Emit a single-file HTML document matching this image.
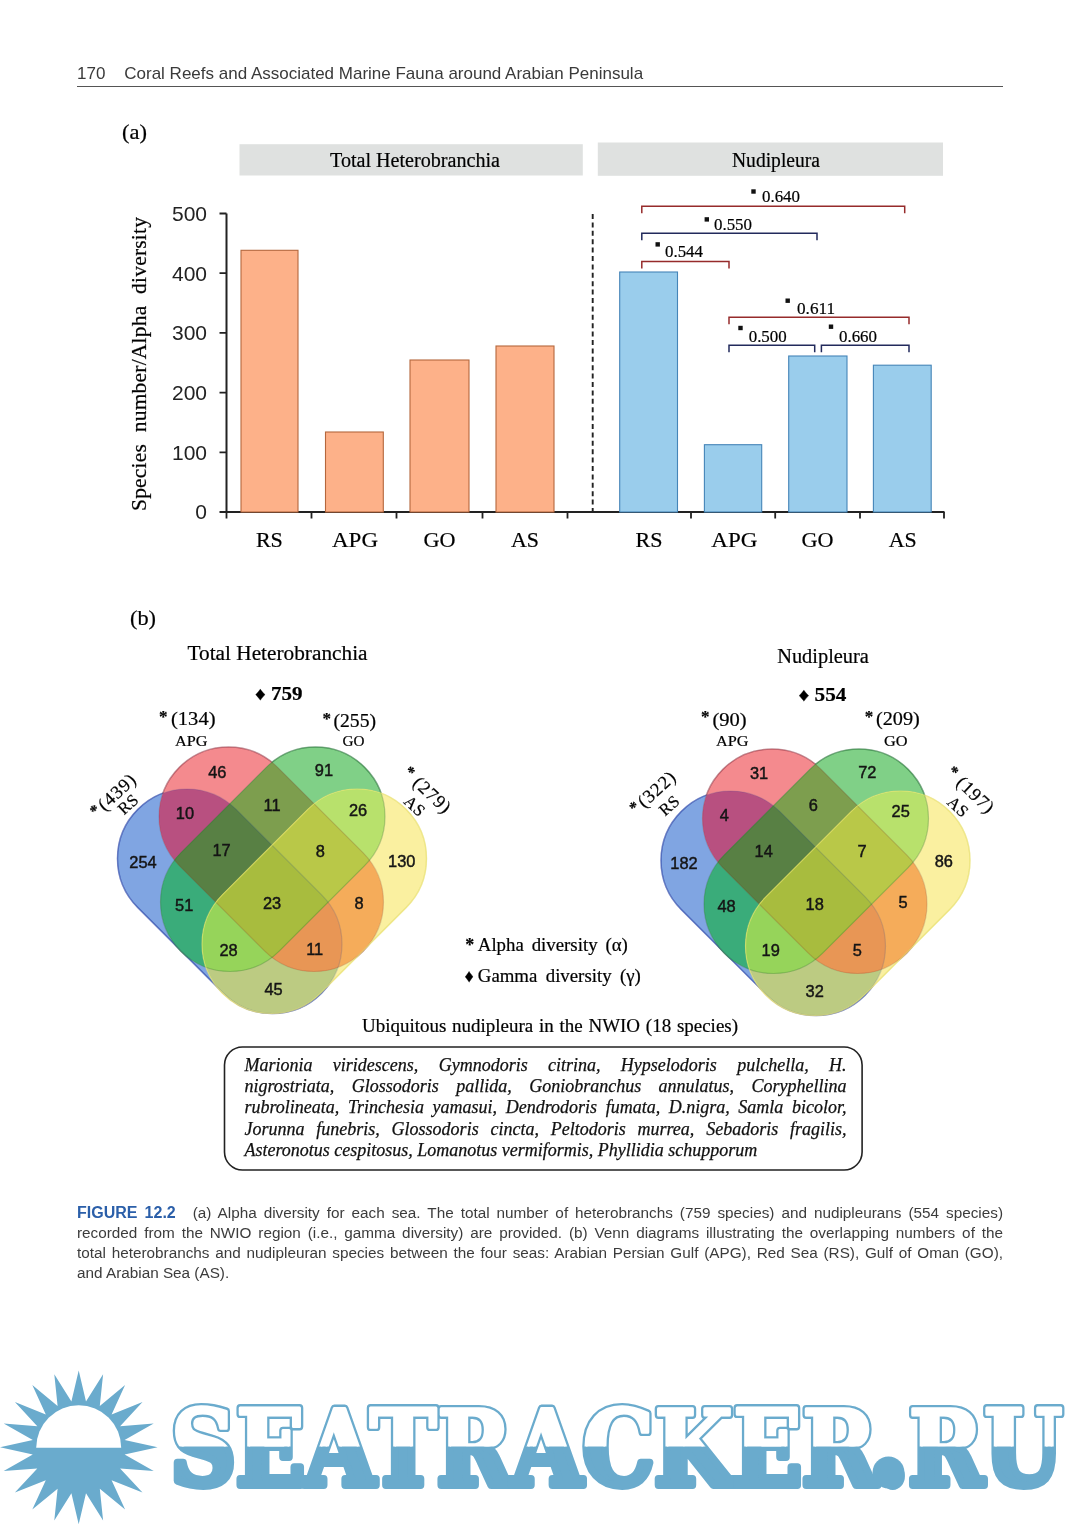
<!DOCTYPE html>
<html lang="en"><head><meta charset="utf-8"><title>Figure 12.2</title>
<style>
html,body{margin:0;padding:0;background:#fff;}
body{width:1080px;height:1527px;position:relative;overflow:hidden;font-family:"Liberation Sans", sans-serif;}
svg{position:absolute;left:0;top:0;}
.se{font-family:"Liberation Serif", serif;stroke:#111;stroke-width:.22px;}
.sa{font-family:"Liberation Sans", sans-serif;}
.hdr{position:absolute;left:77px;top:62.3px;font-size:17px;line-height:24px;color:#3a3a3a;white-space:pre;}
.rule{position:absolute;left:77px;top:86px;width:926px;height:1px;background:#555;}
.cap{position:absolute;left:77px;top:1203px;width:926px;font-size:15.3px;line-height:20px;color:#3c3c3c;}
.cap div{text-align:justify;text-align-last:justify;white-space:nowrap;height:20px;}
.cap div.last{text-align:left;text-align-last:left;}
.cap b{color:#2b5fa9;font-weight:bold;font-size:16px;margin-right:10px;}
.spp{position:absolute;left:244.5px;top:1054.5px;width:602px;font-family:"Liberation Serif", serif;font-style:italic;font-size:18px;line-height:21.4px;color:#111;-webkit-text-stroke:.25px #111;}
.spp div{text-align:justify;text-align-last:justify;white-space:nowrap;height:21.4px;}
.spp div.last{text-align:left;text-align-last:left;}
</style></head><body>
<div class="hdr">170&nbsp;&nbsp;&nbsp; Coral Reefs and Associated Marine Fauna around Arabian Peninsula</div>
<div class="rule"></div>
<svg width="1080" height="1527" viewBox="0 0 1080 1527">
<defs><clipPath id="cA"><rect x="-69.5" y="-69.5" width="259.9" height="139.0" rx="69.5" transform="translate(187 858.5) rotate(45)" /></clipPath><mask id="mA" maskUnits="userSpaceOnUse" x="0" y="600" width="600" height="500"><rect x="0" y="600" width="600" height="500" fill="#fff"/><rect x="-69.5" y="-69.5" width="259.9" height="139.0" rx="69.5" transform="translate(228.5 816.5) rotate(45)" fill="#000"/><rect x="-69.5" y="-69.5" width="259.9" height="139.0" rx="69.5" transform="translate(315.5 816.5) rotate(135)" fill="#000"/><rect x="-69.5" y="-69.5" width="259.9" height="139.0" rx="69.5" transform="translate(357 858.5) rotate(135)" fill="#000"/></mask><clipPath id="cB"><rect x="-69.5" y="-69.5" width="259.9" height="139.0" rx="69.5" transform="translate(228.5 816.5) rotate(45)" /></clipPath><mask id="mB" maskUnits="userSpaceOnUse" x="0" y="600" width="600" height="500"><rect x="0" y="600" width="600" height="500" fill="#fff"/><rect x="-69.5" y="-69.5" width="259.9" height="139.0" rx="69.5" transform="translate(187 858.5) rotate(45)" fill="#000"/><rect x="-69.5" y="-69.5" width="259.9" height="139.0" rx="69.5" transform="translate(315.5 816.5) rotate(135)" fill="#000"/><rect x="-69.5" y="-69.5" width="259.9" height="139.0" rx="69.5" transform="translate(357 858.5) rotate(135)" fill="#000"/></mask><clipPath id="cC"><rect x="-69.5" y="-69.5" width="259.9" height="139.0" rx="69.5" transform="translate(315.5 816.5) rotate(135)" /></clipPath><mask id="mC" maskUnits="userSpaceOnUse" x="0" y="600" width="600" height="500"><rect x="0" y="600" width="600" height="500" fill="#fff"/><rect x="-69.5" y="-69.5" width="259.9" height="139.0" rx="69.5" transform="translate(187 858.5) rotate(45)" fill="#000"/><rect x="-69.5" y="-69.5" width="259.9" height="139.0" rx="69.5" transform="translate(228.5 816.5) rotate(45)" fill="#000"/><rect x="-69.5" y="-69.5" width="259.9" height="139.0" rx="69.5" transform="translate(357 858.5) rotate(135)" fill="#000"/></mask><clipPath id="cD"><rect x="-69.5" y="-69.5" width="259.9" height="139.0" rx="69.5" transform="translate(357 858.5) rotate(135)" /></clipPath><mask id="mD" maskUnits="userSpaceOnUse" x="0" y="600" width="600" height="500"><rect x="0" y="600" width="600" height="500" fill="#fff"/><rect x="-69.5" y="-69.5" width="259.9" height="139.0" rx="69.5" transform="translate(187 858.5) rotate(45)" fill="#000"/><rect x="-69.5" y="-69.5" width="259.9" height="139.0" rx="69.5" transform="translate(228.5 816.5) rotate(45)" fill="#000"/><rect x="-69.5" y="-69.5" width="259.9" height="139.0" rx="69.5" transform="translate(315.5 816.5) rotate(135)" fill="#000"/></mask></defs>
<g id="bars">
<rect x="239.5" y="144.2" width="343.3" height="31.3" fill="#dfe1e0"/>
<rect x="597.8" y="142.5" width="345.2" height="33.3" fill="#dfe1e0"/>
<text x="330" y="167" font-size="20" class="se" textLength="170" lengthAdjust="spacingAndGlyphs">Total Heterobranchia</text>
<text x="732" y="167" font-size="20" class="se" textLength="88" lengthAdjust="spacingAndGlyphs">Nudipleura</text>
<text x="122" y="139" font-size="21" class="se" textLength="25" lengthAdjust="spacingAndGlyphs">(a)</text>
<path d="M226.5 213.5V512.0M221 512.0H944.5" stroke="#222" stroke-width="2" fill="none"/>
<text x="207" y="519.3" font-size="21" class="sa" text-anchor="end" fill="#222">0</text>
<text x="207" y="459.6" font-size="21" class="sa" text-anchor="end" fill="#222">100</text>
<text x="207" y="399.9" font-size="21" class="sa" text-anchor="end" fill="#222">200</text>
<text x="207" y="340.2" font-size="21" class="sa" text-anchor="end" fill="#222">300</text>
<text x="207" y="280.5" font-size="21" class="sa" text-anchor="end" fill="#222">400</text>
<text x="207" y="220.8" font-size="21" class="sa" text-anchor="end" fill="#222">500</text>
<path d="M219.5 512.0H226.5M219.5 452.3H226.5M219.5 392.6H226.5M219.5 332.9H226.5M219.5 273.2H226.5M219.5 213.5H226.5M226.5 512.0V518.5M311.5 512.0V518.5M396.5 512.0V518.5M482.5 512.0V518.5M567.5 512.0V518.5M691 512.0V518.5M775.2 512.0V518.5M860 512.0V518.5M944 512.0V518.5" stroke="#222" stroke-width="1.8" fill="none"/>
<path d="M592.7 214V512" stroke="#222" stroke-width="1.9" stroke-dasharray="5 3.4" fill="none"/>
<text class="se" font-size="21.5" transform="translate(146 511) rotate(-90)" textLength="294" lengthAdjust="spacing" word-spacing="6">Species number/Alpha diversity</text>
<rect x="241" y="250.3" width="57.0" height="261.7" fill="#fdb189" stroke="#b5673c" stroke-width="1.1"/>
<rect x="325.5" y="432" width="57.8" height="80.0" fill="#fdb189" stroke="#b5673c" stroke-width="1.1"/>
<rect x="410" y="360" width="59.0" height="152.0" fill="#fdb189" stroke="#b5673c" stroke-width="1.1"/>
<rect x="496" y="346" width="58.0" height="166.0" fill="#fdb189" stroke="#b5673c" stroke-width="1.1"/>
<rect x="619.7" y="272" width="57.8" height="240.0" fill="#9acdec" stroke="#4585b8" stroke-width="1.1"/>
<rect x="704.4" y="444.7" width="57.3" height="67.3" fill="#9acdec" stroke="#4585b8" stroke-width="1.1"/>
<rect x="788.7" y="356" width="58.3" height="156.0" fill="#9acdec" stroke="#4585b8" stroke-width="1.1"/>
<rect x="873.4" y="365.2" width="57.8" height="146.8" fill="#9acdec" stroke="#4585b8" stroke-width="1.1"/>
<text x="269.4" y="547" font-size="22" class="se" text-anchor="middle" textLength="27" lengthAdjust="spacingAndGlyphs">RS</text>
<text x="355" y="547" font-size="22" class="se" text-anchor="middle" textLength="46" lengthAdjust="spacingAndGlyphs">APG</text>
<text x="439.5" y="547" font-size="22" class="se" text-anchor="middle" textLength="32" lengthAdjust="spacingAndGlyphs">GO</text>
<text x="525" y="547" font-size="22" class="se" text-anchor="middle" textLength="28" lengthAdjust="spacingAndGlyphs">AS</text>
<text x="649" y="547" font-size="22" class="se" text-anchor="middle" textLength="27" lengthAdjust="spacingAndGlyphs">RS</text>
<text x="734.3" y="547" font-size="22" class="se" text-anchor="middle" textLength="46" lengthAdjust="spacingAndGlyphs">APG</text>
<text x="817.6" y="547" font-size="22" class="se" text-anchor="middle" textLength="32" lengthAdjust="spacingAndGlyphs">GO</text>
<text x="902.8" y="547" font-size="22" class="se" text-anchor="middle" textLength="28" lengthAdjust="spacingAndGlyphs">AS</text>
<path d="M641.8 213.3V206.3H904.7V213.3" stroke="#962b2b" stroke-width="1.5" fill="none"/>
<path d="M641.8 240.2V233.2H817V240.2" stroke="#222a5c" stroke-width="1.5" fill="none"/>
<path d="M641.8 268.5V261.5H729V268.5" stroke="#962b2b" stroke-width="1.5" fill="none"/>
<path d="M729 324.3V317.3H909V324.3" stroke="#962b2b" stroke-width="1.5" fill="none"/>
<path d="M729 352.2V345.2H814.7V352.2" stroke="#222a5c" stroke-width="1.5" fill="none"/>
<path d="M821.4 352.2V345.2H909V352.2" stroke="#222a5c" stroke-width="1.5" fill="none"/>
<rect x="751.3" y="189.3" width="4.4" height="4.4" fill="#111"/>
<text x="762" y="202" font-size="17" class="se" textLength="38" lengthAdjust="spacingAndGlyphs">0.640</text>
<rect x="704.5999999999999" y="217.20000000000002" width="4.4" height="4.4" fill="#111"/>
<text x="714" y="230" font-size="17" class="se" textLength="38" lengthAdjust="spacingAndGlyphs">0.550</text>
<rect x="655.5" y="242.20000000000002" width="4.4" height="4.4" fill="#111"/>
<text x="665" y="256.5" font-size="17" class="se" textLength="38" lengthAdjust="spacingAndGlyphs">0.544</text>
<rect x="785.5" y="298.5" width="4.4" height="4.4" fill="#111"/>
<text x="797" y="313.7" font-size="17" class="se" textLength="38" lengthAdjust="spacingAndGlyphs">0.611</text>
<rect x="738.3" y="325.8" width="4.4" height="4.4" fill="#111"/>
<text x="748.7" y="341.6" font-size="17" class="se" textLength="38" lengthAdjust="spacingAndGlyphs">0.500</text>
<rect x="828.8" y="324.5" width="4.4" height="4.4" fill="#111"/>
<text x="839" y="341.6" font-size="17" class="se" textLength="38" lengthAdjust="spacingAndGlyphs">0.660</text>
</g>
<g id="venn1">
<rect x="-69.5" y="-69.5" width="259.9" height="139.0" rx="69.5" transform="translate(187 858.5) rotate(45)" fill="rgb(128,165,226)"/>
<rect x="-69.5" y="-69.5" width="259.9" height="139.0" rx="69.5" transform="translate(228.5 816.5) rotate(45)" fill="rgb(244,138,142)"/>
<rect x="-69.5" y="-69.5" width="259.9" height="139.0" rx="69.5" transform="translate(315.5 816.5) rotate(135)" fill="rgb(128,208,135)"/>
<rect x="-69.5" y="-69.5" width="259.9" height="139.0" rx="69.5" transform="translate(357 858.5) rotate(135)" fill="rgb(250,240,160)"/>
<g clip-path="url(#cB)"><rect x="-69.5" y="-69.5" width="259.9" height="139.0" rx="69.5" transform="translate(187 858.5) rotate(45)" fill="rgb(184,80,128)"/></g>
<g clip-path="url(#cC)"><rect x="-69.5" y="-69.5" width="259.9" height="139.0" rx="69.5" transform="translate(187 858.5) rotate(45)" fill="rgb(58,172,122)"/></g>
<g clip-path="url(#cD)"><rect x="-69.5" y="-69.5" width="259.9" height="139.0" rx="69.5" transform="translate(187 858.5) rotate(45)" fill="rgb(188,203,130)"/></g>
<g clip-path="url(#cC)"><rect x="-69.5" y="-69.5" width="259.9" height="139.0" rx="69.5" transform="translate(228.5 816.5) rotate(45)" fill="rgb(125,158,78)"/></g>
<g clip-path="url(#cD)"><rect x="-69.5" y="-69.5" width="259.9" height="139.0" rx="69.5" transform="translate(228.5 816.5) rotate(45)" fill="rgb(245,172,90)"/></g>
<g clip-path="url(#cD)"><rect x="-69.5" y="-69.5" width="259.9" height="139.0" rx="69.5" transform="translate(315.5 816.5) rotate(135)" fill="rgb(184,225,108)"/></g>
<g clip-path="url(#cC)"><g clip-path="url(#cB)"><rect x="-69.5" y="-69.5" width="259.9" height="139.0" rx="69.5" transform="translate(187 858.5) rotate(45)" fill="rgb(88,128,68)"/></g></g>
<g clip-path="url(#cD)"><g clip-path="url(#cB)"><rect x="-69.5" y="-69.5" width="259.9" height="139.0" rx="69.5" transform="translate(187 858.5) rotate(45)" fill="rgb(232,150,85)"/></g></g>
<g clip-path="url(#cD)"><g clip-path="url(#cC)"><rect x="-69.5" y="-69.5" width="259.9" height="139.0" rx="69.5" transform="translate(187 858.5) rotate(45)" fill="rgb(150,212,90)"/></g></g>
<g clip-path="url(#cD)"><g clip-path="url(#cC)"><rect x="-69.5" y="-69.5" width="259.9" height="139.0" rx="69.5" transform="translate(228.5 816.5) rotate(45)" fill="rgb(185,200,72)"/></g></g>
<g clip-path="url(#cD)"><g clip-path="url(#cC)"><g clip-path="url(#cB)"><rect x="-69.5" y="-69.5" width="259.9" height="139.0" rx="69.5" transform="translate(187 858.5) rotate(45)" fill="rgb(168,188,62)"/></g></g></g>
<rect x="-69.5" y="-69.5" width="259.9" height="139.0" rx="69.5" transform="translate(187 858.5) rotate(45)" fill="none" stroke="rgba(30,60,150,.18)" stroke-width="1.2"/>
<g mask="url(#mA)"><rect x="-69.5" y="-69.5" width="259.9" height="139.0" rx="69.5" transform="translate(187 858.5) rotate(45)" fill="none" stroke="rgba(45,70,170,.6)" stroke-width="1.5"/></g>
<rect x="-69.5" y="-69.5" width="259.9" height="139.0" rx="69.5" transform="translate(228.5 816.5) rotate(45)" fill="none" stroke="rgba(120,40,40,.2)" stroke-width="1.2"/>
<g mask="url(#mB)"><rect x="-69.5" y="-69.5" width="259.9" height="139.0" rx="69.5" transform="translate(228.5 816.5) rotate(45)" fill="none" stroke="rgba(140,40,60,.4)" stroke-width="1.5"/></g>
<rect x="-69.5" y="-69.5" width="259.9" height="139.0" rx="69.5" transform="translate(315.5 816.5) rotate(135)" fill="none" stroke="rgba(30,100,40,.28)" stroke-width="1.2"/>
<g mask="url(#mC)"><rect x="-69.5" y="-69.5" width="259.9" height="139.0" rx="69.5" transform="translate(315.5 816.5) rotate(135)" fill="none" stroke="rgba(30,110,50,.45)" stroke-width="1.5"/></g>
<rect x="-69.5" y="-69.5" width="259.9" height="139.0" rx="69.5" transform="translate(357 858.5) rotate(135)" fill="none" stroke="rgba(235,230,110,.6)" stroke-width="1.2"/>
<g mask="url(#mD)"><rect x="-69.5" y="-69.5" width="259.9" height="139.0" rx="69.5" transform="translate(357 858.5) rotate(135)" fill="none" stroke="rgba(228,218,110,.35)" stroke-width="1.5"/></g>
</g>
<g id="venn2" transform="translate(543.5 2)">
<rect x="-69.5" y="-69.5" width="259.9" height="139.0" rx="69.5" transform="translate(187 858.5) rotate(45)" fill="rgb(128,165,226)"/>
<rect x="-69.5" y="-69.5" width="259.9" height="139.0" rx="69.5" transform="translate(228.5 816.5) rotate(45)" fill="rgb(244,138,142)"/>
<rect x="-69.5" y="-69.5" width="259.9" height="139.0" rx="69.5" transform="translate(315.5 816.5) rotate(135)" fill="rgb(128,208,135)"/>
<rect x="-69.5" y="-69.5" width="259.9" height="139.0" rx="69.5" transform="translate(357 858.5) rotate(135)" fill="rgb(250,240,160)"/>
<g clip-path="url(#cB)"><rect x="-69.5" y="-69.5" width="259.9" height="139.0" rx="69.5" transform="translate(187 858.5) rotate(45)" fill="rgb(184,80,128)"/></g>
<g clip-path="url(#cC)"><rect x="-69.5" y="-69.5" width="259.9" height="139.0" rx="69.5" transform="translate(187 858.5) rotate(45)" fill="rgb(58,172,122)"/></g>
<g clip-path="url(#cD)"><rect x="-69.5" y="-69.5" width="259.9" height="139.0" rx="69.5" transform="translate(187 858.5) rotate(45)" fill="rgb(188,203,130)"/></g>
<g clip-path="url(#cC)"><rect x="-69.5" y="-69.5" width="259.9" height="139.0" rx="69.5" transform="translate(228.5 816.5) rotate(45)" fill="rgb(125,158,78)"/></g>
<g clip-path="url(#cD)"><rect x="-69.5" y="-69.5" width="259.9" height="139.0" rx="69.5" transform="translate(228.5 816.5) rotate(45)" fill="rgb(245,172,90)"/></g>
<g clip-path="url(#cD)"><rect x="-69.5" y="-69.5" width="259.9" height="139.0" rx="69.5" transform="translate(315.5 816.5) rotate(135)" fill="rgb(184,225,108)"/></g>
<g clip-path="url(#cC)"><g clip-path="url(#cB)"><rect x="-69.5" y="-69.5" width="259.9" height="139.0" rx="69.5" transform="translate(187 858.5) rotate(45)" fill="rgb(88,128,68)"/></g></g>
<g clip-path="url(#cD)"><g clip-path="url(#cB)"><rect x="-69.5" y="-69.5" width="259.9" height="139.0" rx="69.5" transform="translate(187 858.5) rotate(45)" fill="rgb(232,150,85)"/></g></g>
<g clip-path="url(#cD)"><g clip-path="url(#cC)"><rect x="-69.5" y="-69.5" width="259.9" height="139.0" rx="69.5" transform="translate(187 858.5) rotate(45)" fill="rgb(150,212,90)"/></g></g>
<g clip-path="url(#cD)"><g clip-path="url(#cC)"><rect x="-69.5" y="-69.5" width="259.9" height="139.0" rx="69.5" transform="translate(228.5 816.5) rotate(45)" fill="rgb(185,200,72)"/></g></g>
<g clip-path="url(#cD)"><g clip-path="url(#cC)"><g clip-path="url(#cB)"><rect x="-69.5" y="-69.5" width="259.9" height="139.0" rx="69.5" transform="translate(187 858.5) rotate(45)" fill="rgb(168,188,62)"/></g></g></g>
<rect x="-69.5" y="-69.5" width="259.9" height="139.0" rx="69.5" transform="translate(187 858.5) rotate(45)" fill="none" stroke="rgba(30,60,150,.18)" stroke-width="1.2"/>
<g mask="url(#mA)"><rect x="-69.5" y="-69.5" width="259.9" height="139.0" rx="69.5" transform="translate(187 858.5) rotate(45)" fill="none" stroke="rgba(45,70,170,.6)" stroke-width="1.5"/></g>
<rect x="-69.5" y="-69.5" width="259.9" height="139.0" rx="69.5" transform="translate(228.5 816.5) rotate(45)" fill="none" stroke="rgba(120,40,40,.2)" stroke-width="1.2"/>
<g mask="url(#mB)"><rect x="-69.5" y="-69.5" width="259.9" height="139.0" rx="69.5" transform="translate(228.5 816.5) rotate(45)" fill="none" stroke="rgba(140,40,60,.4)" stroke-width="1.5"/></g>
<rect x="-69.5" y="-69.5" width="259.9" height="139.0" rx="69.5" transform="translate(315.5 816.5) rotate(135)" fill="none" stroke="rgba(30,100,40,.28)" stroke-width="1.2"/>
<g mask="url(#mC)"><rect x="-69.5" y="-69.5" width="259.9" height="139.0" rx="69.5" transform="translate(315.5 816.5) rotate(135)" fill="none" stroke="rgba(30,110,50,.45)" stroke-width="1.5"/></g>
<rect x="-69.5" y="-69.5" width="259.9" height="139.0" rx="69.5" transform="translate(357 858.5) rotate(135)" fill="none" stroke="rgba(235,230,110,.6)" stroke-width="1.2"/>
<g mask="url(#mD)"><rect x="-69.5" y="-69.5" width="259.9" height="139.0" rx="69.5" transform="translate(357 858.5) rotate(135)" fill="none" stroke="rgba(228,218,110,.35)" stroke-width="1.5"/></g>
</g>
<g id="vtext">
<text x="217.3" y="778.1" font-size="16.4" class="sa" text-anchor="middle" fill="#151515" stroke="#151515" stroke-width="0.45">46</text>
<text x="323.9" y="776.3" font-size="16.4" class="sa" text-anchor="middle" fill="#151515" stroke="#151515" stroke-width="0.45">91</text>
<text x="184.9" y="819.1" font-size="16.4" class="sa" text-anchor="middle" fill="#151515" stroke="#151515" stroke-width="0.45">10</text>
<text x="272" y="810.8" font-size="16.4" class="sa" text-anchor="middle" fill="#151515" stroke="#151515" stroke-width="0.45">11</text>
<text x="358" y="816.1" font-size="16.4" class="sa" text-anchor="middle" fill="#151515" stroke="#151515" stroke-width="0.45">26</text>
<text x="221.5" y="855.8" font-size="16.4" class="sa" text-anchor="middle" fill="#151515" stroke="#151515" stroke-width="0.45">17</text>
<text x="320.2" y="857.3" font-size="16.4" class="sa" text-anchor="middle" fill="#151515" stroke="#151515" stroke-width="0.45">8</text>
<text x="143" y="868.0" font-size="16.4" class="sa" text-anchor="middle" fill="#151515" stroke="#151515" stroke-width="0.45">254</text>
<text x="401.8" y="867.1" font-size="16.4" class="sa" text-anchor="middle" fill="#151515" stroke="#151515" stroke-width="0.45">130</text>
<text x="184.2" y="910.8" font-size="16.4" class="sa" text-anchor="middle" fill="#151515" stroke="#151515" stroke-width="0.45">51</text>
<text x="272" y="908.6" font-size="16.4" class="sa" text-anchor="middle" fill="#151515" stroke="#151515" stroke-width="0.45">23</text>
<text x="359" y="908.6" font-size="16.4" class="sa" text-anchor="middle" fill="#151515" stroke="#151515" stroke-width="0.45">8</text>
<text x="228.5" y="956.0" font-size="16.4" class="sa" text-anchor="middle" fill="#151515" stroke="#151515" stroke-width="0.45">28</text>
<text x="314.7" y="955.1" font-size="16.4" class="sa" text-anchor="middle" fill="#151515" stroke="#151515" stroke-width="0.45">11</text>
<text x="273.5" y="994.8" font-size="16.4" class="sa" text-anchor="middle" fill="#151515" stroke="#151515" stroke-width="0.45">45</text>
<text x="130" y="625" font-size="21" class="se" textLength="26" lengthAdjust="spacingAndGlyphs">(b)</text>
<text x="187.5" y="660" font-size="20" class="se" textLength="180" lengthAdjust="spacingAndGlyphs">Total Heterobranchia</text>
<text x="255" y="700" font-size="18.5" class="se" font-weight="bold" textLength="47.5" lengthAdjust="spacingAndGlyphs">♦ 759</text>
<text x="159" y="721.5" font-size="17" class="se" font-weight="bold">*</text>
<text x="171" y="724.5" font-size="18" class="se" textLength="44.5" lengthAdjust="spacingAndGlyphs">(134)</text>
<text x="175" y="746" font-size="14.5" class="se" textLength="32.5" lengthAdjust="spacingAndGlyphs" stroke="#111" stroke-width="0.3">APG</text>
<text x="322.5" y="723.5" font-size="17" class="se" font-weight="bold">*</text>
<text x="333.5" y="727" font-size="18" class="se" textLength="42.5" lengthAdjust="spacingAndGlyphs">(255)</text>
<text x="342.5" y="746" font-size="14.5" class="se" textLength="22" lengthAdjust="spacingAndGlyphs" stroke="#111" stroke-width="0.3">GO</text>
<text x="759" y="779.3" font-size="16.4" class="sa" text-anchor="middle" fill="#151515" stroke="#151515" stroke-width="0.45">31</text>
<text x="867.3" y="777.7" font-size="16.4" class="sa" text-anchor="middle" fill="#151515" stroke="#151515" stroke-width="0.45">72</text>
<text x="724.4" y="820.8" font-size="16.4" class="sa" text-anchor="middle" fill="#151515" stroke="#151515" stroke-width="0.45">4</text>
<text x="813.2" y="810.8" font-size="16.4" class="sa" text-anchor="middle" fill="#151515" stroke="#151515" stroke-width="0.45">6</text>
<text x="900.7" y="817.0" font-size="16.4" class="sa" text-anchor="middle" fill="#151515" stroke="#151515" stroke-width="0.45">25</text>
<text x="763.7" y="857.0" font-size="16.4" class="sa" text-anchor="middle" fill="#151515" stroke="#151515" stroke-width="0.45">14</text>
<text x="862" y="857.0" font-size="16.4" class="sa" text-anchor="middle" fill="#151515" stroke="#151515" stroke-width="0.45">7</text>
<text x="684" y="869.0" font-size="16.4" class="sa" text-anchor="middle" fill="#151515" stroke="#151515" stroke-width="0.45">182</text>
<text x="943.8" y="867.4" font-size="16.4" class="sa" text-anchor="middle" fill="#151515" stroke="#151515" stroke-width="0.45">86</text>
<text x="726.6" y="912.1" font-size="16.4" class="sa" text-anchor="middle" fill="#151515" stroke="#151515" stroke-width="0.45">48</text>
<text x="814.7" y="909.8" font-size="16.4" class="sa" text-anchor="middle" fill="#151515" stroke="#151515" stroke-width="0.45">18</text>
<text x="903" y="908.3" font-size="16.4" class="sa" text-anchor="middle" fill="#151515" stroke="#151515" stroke-width="0.45">5</text>
<text x="770.7" y="956.2" font-size="16.4" class="sa" text-anchor="middle" fill="#151515" stroke="#151515" stroke-width="0.45">19</text>
<text x="857.3" y="956.2" font-size="16.4" class="sa" text-anchor="middle" fill="#151515" stroke="#151515" stroke-width="0.45">5</text>
<text x="814.7" y="996.5" font-size="16.4" class="sa" text-anchor="middle" fill="#151515" stroke="#151515" stroke-width="0.45">32</text>
<text x="777.2" y="663" font-size="20" class="se" textLength="91.7" lengthAdjust="spacingAndGlyphs">Nudipleura</text>
<text x="798.4" y="700.7" font-size="18.5" class="se" font-weight="bold" textLength="48" lengthAdjust="spacingAndGlyphs">♦ 554</text>
<text x="701" y="722" font-size="17" class="se" font-weight="bold">*</text>
<text x="712.5" y="725.5" font-size="18" class="se" textLength="34.2" lengthAdjust="spacingAndGlyphs">(90)</text>
<text x="716" y="746.3" font-size="14.5" class="se" textLength="32.5" lengthAdjust="spacingAndGlyphs" stroke="#111" stroke-width="0.3">APG</text>
<text x="864.8" y="721.5" font-size="17" class="se" font-weight="bold">*</text>
<text x="876" y="725" font-size="18" class="se" textLength="43.8" lengthAdjust="spacingAndGlyphs">(209)</text>
<text x="884" y="746.3" font-size="14.5" class="se" textLength="23.6" lengthAdjust="spacingAndGlyphs" stroke="#111" stroke-width="0.3">GO</text>
<text class="se" font-size="18.5" letter-spacing="1.0" transform="translate(97.4 818.6) rotate(-43)"><tspan dy="-2.4" font-weight="bold" font-size="16">*</tspan><tspan dy="2.4" dx="1.2">(439)</tspan></text>
<text class="se" font-size="16.8" letter-spacing="0.5" stroke="#111" stroke-width="0.35" transform="translate(124.1 815.6) rotate(-43)">RS</text>
<text class="se" font-size="18.5" letter-spacing="1.0" transform="translate(401.5 774.6) rotate(43)"><tspan dy="-2.7" font-weight="bold" font-size="16">*</tspan><tspan dy="2.7" dx="5">(279)</tspan></text>
<text class="se" font-size="16.8" letter-spacing="0.5" stroke="#111" stroke-width="0.35" transform="translate(402.8 802.5) rotate(43)">AS</text>
<text class="se" font-size="18.5" letter-spacing="1.0" transform="translate(636.6 815.4) rotate(-42)"><tspan dy="-2.4" font-weight="bold" font-size="16">*</tspan><tspan dy="2.4" dx="1.2">(322)</tspan></text>
<text class="se" font-size="16.8" letter-spacing="0.5" stroke="#111" stroke-width="0.35" transform="translate(665 816.8) rotate(-42)">RS</text>
<text class="se" font-size="18.5" letter-spacing="1.0" transform="translate(944.9 774.5) rotate(43)"><tspan dy="-2.7" font-weight="bold" font-size="16">*</tspan><tspan dy="2.7" dx="5">(197)</tspan></text>
<text class="se" font-size="16.8" letter-spacing="0.5" stroke="#111" stroke-width="0.35" transform="translate(945.9 803.2) rotate(43)">AS</text>
<text x="465.3" y="950.6" font-size="18" class="se" font-weight="bold">*</text>
<text x="477.8" y="950.6" font-size="18" class="se" textLength="150" lengthAdjust="spacingAndGlyphs" word-spacing="3">Alpha diversity (α)</text>
<text x="464.4" y="981.5" font-size="18" class="se">♦</text>
<text x="477.8" y="981.5" font-size="18" class="se" textLength="163" lengthAdjust="spacingAndGlyphs" word-spacing="3.5">Gamma diversity (γ)</text>
<text x="362" y="1032" font-size="18" class="se" textLength="376" lengthAdjust="spacingAndGlyphs" word-spacing="1">Ubiquitous nudipleura in the NWIO (18 species)</text>
<rect x="224.5" y="1047" width="637.6" height="123" rx="18" fill="#fff" stroke="#222" stroke-width="1.6"/>
</g>
<g id="wm">
<path d="M78.7 1370.4L86.0 1401.4L103.1 1374.2L99.8 1405.9L125.1 1385.1L111.6 1414.4L142.5 1402.1L120.1 1426.2L153.7 1423.5L124.6 1440.0L157.6 1447.3L124.6 1454.6L153.7 1471.1L120.1 1468.4L142.5 1492.5L111.6 1480.2L125.1 1509.5L99.8 1488.7L103.1 1520.4L86.0 1493.2L78.7 1524.2L71.4 1493.2L54.3 1520.4L57.6 1488.7L32.3 1509.5L45.8 1480.2L14.9 1492.5L37.3 1468.4L3.7 1471.1L32.8 1454.6L-0.2 1447.3L32.8 1440.0L3.7 1423.5L37.3 1426.2L14.9 1402.1L45.8 1414.4L32.3 1385.1L57.6 1405.9L54.3 1374.2L71.4 1401.4Z" fill="#6aabcd"/><path d="M36.2 1447.7A42.5 42.5 0 0 1 121.2 1447.7Z" fill="#fff"/><defs><clipPath id="wtop"><rect x="0" y="1380" width="1080" height="66.5"/></clipPath></defs><text x="170.6" y="1485.1" font-family="'DejaVu Serif Condensed', 'DejaVu Serif', 'Liberation Serif', serif" font-weight="bold" font-size="104.5" textLength="892" lengthAdjust="spacingAndGlyphs" stroke-linejoin="round" fill="#6aabcd" stroke="#6aabcd" stroke-width="7.8">SEATRACKER.RU</text><g clip-path="url(#wtop)"><text x="170.6" y="1485.1" font-family="'DejaVu Serif Condensed', 'DejaVu Serif', 'Liberation Serif', serif" font-weight="bold" font-size="104.5" textLength="892" lengthAdjust="spacingAndGlyphs" stroke-linejoin="round" fill="#fff" stroke="#fff" stroke-width="3.0">SEATRACKER.RU</text></g><circle cx="888.5" cy="1472.5" r="16" fill="#6aabcd"/>
</g>
</svg>
<div class="spp">
<div>Marionia viridescens, Gymnodoris citrina, Hypselodoris pulchella, H.</div>
<div>nigrostriata, Glossodoris pallida, Goniobranchus annulatus, Coryphellina</div>
<div>rubrolineata, Trinchesia yamasui, Dendrodoris fumata, D.nigra, Samla bicolor,</div>
<div>Jorunna funebris, Glossodoris cincta, Peltodoris murrea, Sebadoris fragilis,</div>
<div class="last">Asteronotus cespitosus, Lomanotus vermiformis, Phyllidia schupporum</div>
</div>
<div class="cap">
<div><b>FIGURE 12.2</b> (a) Alpha diversity for each sea. The total number of heterobranchs (759 species) and nudipleurans (554 species)</div>
<div>recorded from the NWIO region (i.e., gamma diversity) are provided. (b) Venn diagrams illustrating the overlapping numbers of the</div>
<div>total heterobranchs and nudipleuran species between the four seas: Arabian Persian Gulf (APG), Red Sea (RS), Gulf of Oman (GO),</div>
<div class="last">and Arabian Sea (AS).</div>
</div>
</body></html>
